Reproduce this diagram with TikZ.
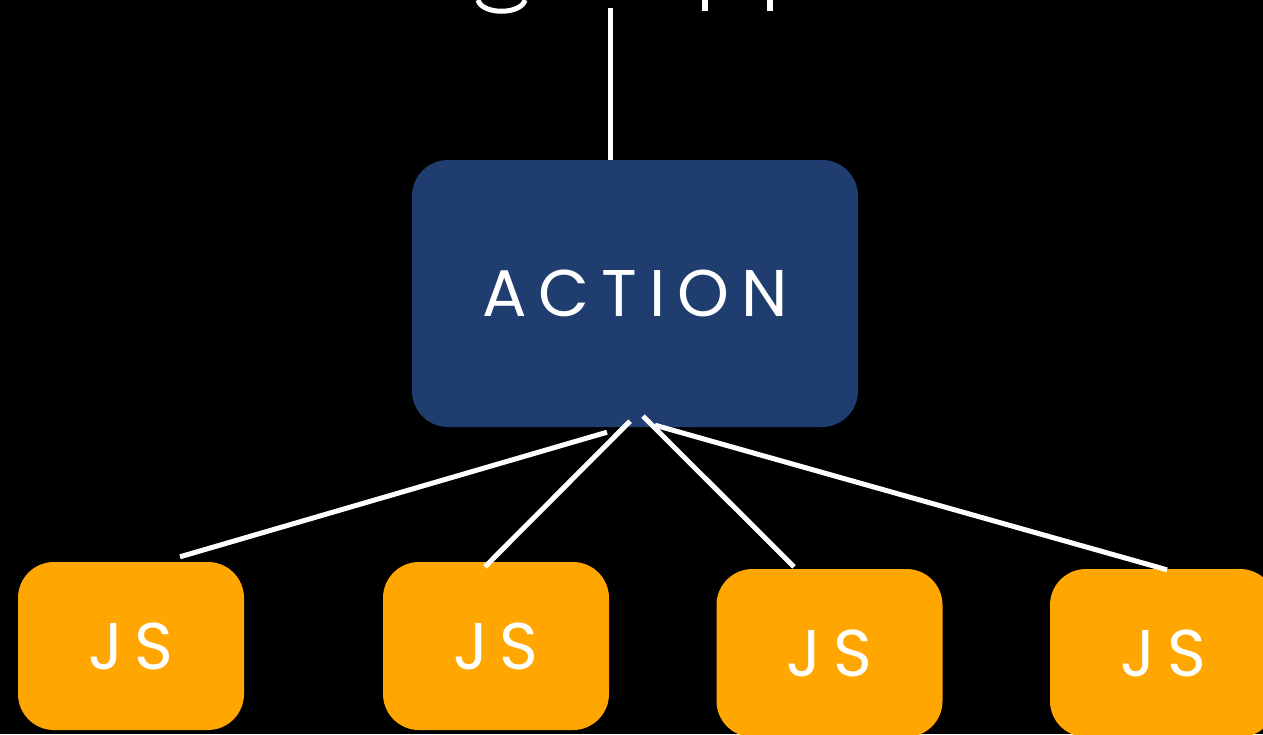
\documentclass[tikz,border=0pt]{standalone}
\usepackage{fontspec}
\usepackage{xcolor}
\usetikzlibrary{positioning,calc}
\newfontfamily\slidefont[LetterSpace=18]{Poppins}
\definecolor{actionblue}{RGB}{31,61,110}
\definecolor{jsorange}{RGB}{255,166,0}
\tikzset{
  slidefont/.style={font=\slidefont\fontsize{66}{78}\selectfont, text=white},
  slidebox/.style={rectangle, rounded corners=36pt, inner sep=0pt},
  actionbox/.style={slidebox, fill=actionblue, minimum width=446pt, minimum height=267pt},
  jsbox/.style={slidebox, fill=jsorange, minimum width=226pt, minimum height=168pt},
  slideline/.style={draw=white, line width=5pt},
}

\begin{document}
\begin{tikzpicture}[slidefont, x=1pt, y=-1pt]
		% Background and page size
		\fill[black] (0,0) rectangle (1263,734);
		\useasboundingbox (0,0) rectangle (1263,734);
		\clip (0,0) rectangle (1263,734);

		% Remains of the cut-off title
		\draw[slideline] (478,0) .. controls (482,15) and (521,15) .. (525,0);
		\draw[white, line width=6pt] (705,0) -- (705,11);
		\draw[white, line width=6pt] (770,0) -- (770,11);

		% Action node
		\node[actionbox] (action) at (635,293.5) {ACTION};

		% JS nodes
		\node[jsbox] (js1) at (131,646) {JS};
		\node[jsbox] (js2) at (496,646) {JS};
		\node[jsbox] (js3) at (829.5,653) {JS};
		\node[jsbox] (js4) at (1163,653) {JS};

		% Connectors
		\coordinate (title) at (610,8);
		\draw[slideline] (title) -- ([xshift=-25pt]action.north);
		\draw[slideline] ([xshift=-28pt,yshift=-5pt]action.south) -- ([xshift=49pt,yshift=5pt]js1.north);
		\draw[slideline] ([xshift=-5pt,yshift=6pt]action.south) -- ([xshift=-11pt,yshift=-5pt]js2.north);
		\draw[slideline] ([xshift=8pt,yshift=11pt]action.south) -- ([xshift=-35.5pt,yshift=2pt]js3.north);
		\draw[slideline] ([xshift=20pt,yshift=2pt]action.south) -- ([xshift=4pt,yshift=-1pt]js4.north);
	\end{tikzpicture}
\end{document}
